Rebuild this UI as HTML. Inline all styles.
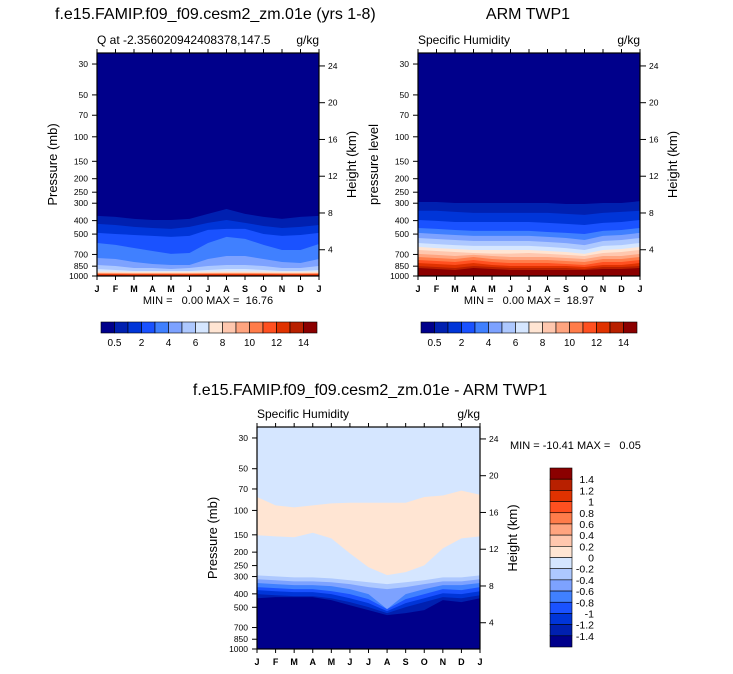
<!DOCTYPE html>
<html><head><meta charset="utf-8"><style>
html,body{margin:0;padding:0;background:#fff}
svg{display:block;font-family:"Liberation Sans",sans-serif}
text{white-space:pre}
</style></head><body>
<svg id="c" width="733" height="674" viewBox="0 0 733 674"></svg>
<script>
const months=["J","F","M","A","M","J","J","A","S","O","N","D","J"];
const colors=["#00008b","#0020b0","#0035d8","#1a52ff","#4080ff","#7da2ff","#adc8ff","#d5e6ff","#ffe5d3","#ffc7ae","#ffa47f","#ff7c4a","#ff5020","#e03200","#b82000","#8b0000"];
const qLevels=["0.5","1","2","3","4","5","6","7","8","9","10","11","12","13","14"];
const dLevels=["-1.4","-1.2","-1","-0.8","-0.6","-0.4","-0.2","0","0.2","0.4","0.6","0.8","1","1.2","1.4"];
const pTicks=[30,50,70,100,150,200,250,300,400,500,700,850,1000];
const zTicks=[4,8,12,16,20,24];
const modelB=[
[370,376,389,396,396,389,358,330,358,376,389,376,370],
[422,430,444,452,459,444,415,396,415,437,452,444,430],
[490,499,507,515,524,515,466,459,459,499,515,507,490],
[579,598,629,661,694,683,579,524,541,598,650,650,589],
[742,755,793,820,833,833,755,718,718,755,793,807,755],
[833,847,876,876,890,876,847,833,833,847,876,876,847],
[890,905,920,920,920,920,905,890,890,905,920,920,905],
[928,930,932,932,932,932,930,928,928,930,932,932,930],
[944,946,948,948,948,948,946,944,944,946,948,948,946],
[951,953,955,955,955,955,953,951,951,953,955,955,953],
[959,960,962,962,962,962,960,959,959,960,962,962,960],
[967,968,970,970,970,970,968,967,967,968,970,970,968],
[975,976,977,977,977,977,976,975,975,976,977,977,976],
[984,984,985,985,985,985,984,984,984,984,985,985,984],
[992,992,993,993,993,993,992,992,992,992,993,993,992]];
const obsB=[
[294,294,299,299,299,299,299,299,304,304,299,299,290],
[340,340,346,352,352,352,352,352,358,364,352,346,340],
[396,402,409,409,409,409,409,415,422,430,415,409,396],
[452,459,467,474,474,474,474,483,490,499,474,467,452],
[490,499,507,515,515,515,515,524,533,551,515,507,490],
[533,542,551,560,560,560,560,570,580,600,560,551,533],
[579,590,600,608,608,608,608,618,630,650,608,600,579],
[618,630,640,650,650,650,650,661,672,694,650,640,618],
[650,661,672,683,690,690,683,694,705,718,683,672,650],
[694,705,718,705,718,730,730,730,742,755,718,718,694],
[730,742,755,730,755,767,767,767,780,793,755,755,730],
[767,780,793,767,793,807,807,807,820,833,793,793,767],
[807,820,833,807,833,847,847,847,847,862,833,833,807],
[847,862,876,847,862,876,876,876,876,890,862,862,847],
[876,890,905,876,890,905,905,905,905,905,890,890,876]];
const diffPosTop=[80,92,95,92,89,88,88,88,88,80,78,72,77];
const diffPosBot=[151,154,156,145,159,204,257,293,279,249,188,159,154];
const diffNeg=[
[294,299,304,304,309,319,330,340,330,319,304,304,294],
[314,319,325,325,330,340,358,370,358,340,325,325,314],
[334,340,346,346,352,370,402,515,402,370,346,346,334],
[358,364,370,370,382,402,437,515,437,402,370,376,358],
[376,383,389,389,402,430,467,533,467,430,396,402,383],
[402,409,415,415,430,459,499,551,499,459,422,430,409],
[430,422,422,422,444,483,524,569,551,524,444,459,430]];

const svg=document.getElementById('c');
const NS="http://www.w3.org/2000/svg";
function mk(tag,attrs,parent,name){const e=document.createElementNS(NS,tag);for(const k in attrs)e.setAttribute(k,attrs[k]);(parent||svg).appendChild(e);


return e;}
function txt(x,y,s,size,anchor,name,extra){const t=mk('text',Object.assign({x:x,y:y,'font-size':size,'text-anchor':anchor||'start',fill:'#000'},extra||{}),null,name);t.textContent=s;return t;}

function panel(L,T,W,H,id){
  const g=mk('g',{},null,id+'-plot');
  const xs=i=>L+i*W/12;
  const ys=p=>T+H-H*Math.log10(1000/p)/Math.log10(1000/25);
  function fillBelow(arr,col,nm){
    let d='M'+xs(0)+','+ys(arr[0]);
    for(let i=1;i<arr.length;i++)d+='L'+xs(i)+','+ys(arr[i]);
    d+='L'+(L+W)+','+(T+H)+'L'+L+','+(T+H)+'Z';
    mk('path',{d:d,fill:col},g,nm);
  }
  function band(top,bot,col,nm){
    let d='M'+xs(0)+','+ys(top[0]);
    for(let i=1;i<top.length;i++)d+='L'+xs(i)+','+ys(top[i]);
    for(let i=bot.length-1;i>=0;i--)d+='L'+xs(i)+','+ys(bot[i]);
    d+='Z';mk('path',{d:d,fill:col},g,nm);
  }
  return {g,xs,ys,fillBelow,band};
}
function axes(L,T,W,H,ys,id,leftLabel){
  mk('rect',{x:L,y:T,width:W,height:H,fill:'none',stroke:'#000','stroke-width':1.2},null,id+'-frame');
  for(let i=0;i<13;i++){
    const x=L+i*W/12;
    mk('line',{x1:x,y1:T,x2:x,y2:T-4,stroke:'#000'},null,id+'-top-tick');
    mk('line',{x1:x,y1:T+H,x2:x,y2:T+H+4,stroke:'#000'},null,id+'-bottom-tick');
    txt(x,T+H+16,months[i],9,'middle',id+'-month-label',{'font-weight':'bold'});
  }
  pTicks.forEach(p=>{const y=ys(p);
    mk('line',{x1:L,y1:y,x2:L-5,y2:y,stroke:'#000'},null,id+'-pressure-tick');
    txt(L-9,y+3,String(p),8.5,'end',id+'-pressure-label');});
  zTicks.forEach(z=>{const y=T+H+10.5-9.19*z;
    mk('line',{x1:L+W,y1:y,x2:L+W+6,y2:y,stroke:'#000'},null,id+'-height-tick');
    txt(L+W+9,y+3,String(z),8.5,'start',id+'-height-label');});
  txt(0,0,leftLabel,13,'middle',id+'-y-axis-title',{transform:'translate('+(L-40)+','+(T+H/2)+') rotate(-90)'});
  txt(0,0,'Height (km)',13,'middle',id+'-right-axis-title',{transform:'translate('+(L+W+37)+','+(T+H/2)+') rotate(-90)'});
}
function hbar(L,T,id){
  const w=13.5;
  colors.forEach((c,i)=>mk('rect',{x:L+i*w,y:T,width:w,height:11,fill:c,stroke:'#000','stroke-width':0.6},null,id+'-colorbar-box'));
  qLevels.forEach((s,i)=>{if(i%2===0){const x=L+(i+1)*w;txt(x,T+24,s,10,'middle',id+'-colorbar-label');}});
}

(function(){const L=97,T=53,W=222,H=223;const P=panel(L,T,W,H,'model');
  mk('rect',{x:L,y:T,width:W,height:H,fill:colors[0]},P.g,'model-background');
  modelB.forEach((b,k)=>P.fillBelow(b,colors[k+1],'model-contour-band'));
  axes(L,T,W,H,P.ys,'model','Pressure (mb)');
  txt(55,19,'f.e15.FAMIP.f09_f09.cesm2_zm.01e (yrs 1-8)',16,'start','model-title');
  txt(L,44,'Q at -2.356020942408378,147.5',12,'start','model-subtitle');
  txt(L+W,44,'g/kg',12,'end','model-units');
  txt(L+W/2,304,'MIN =   0.00 MAX =  16.76',11,'middle','model-minmax');
  hbar(101,322,'model');
})();
(function(){const L=418,T=53,W=222,H=223;const P=panel(L,T,W,H,'obs');
  mk('rect',{x:L,y:T,width:W,height:H,fill:colors[0]},P.g,'obs-background');
  obsB.forEach((b,k)=>P.fillBelow(b,colors[k+1],'obs-contour-band'));
  axes(L,T,W,H,P.ys,'obs','pressure level');
  txt(528,19,'ARM TWP1',16,'middle','obs-title');
  txt(L,44,'Specific Humidity',12,'start','obs-subtitle');
  txt(L+W,44,'g/kg',12,'end','obs-units');
  txt(L+W/2,304,'MIN =   0.00 MAX =  18.97',11,'middle','obs-minmax');
  hbar(421,322,'obs');
})();
(function(){const L=257,T=427,W=223,H=222;const P=panel(L,T,W,H,'diff');
  mk('rect',{x:L,y:T,width:W,height:H,fill:colors[7]},P.g,'diff-background');
  P.band(diffPosTop,diffPosBot,colors[8],'diff-positive-band');
  diffNeg.forEach((b,k)=>P.fillBelow(b,colors[6-k],'diff-contour-band'));
  axes(L,T,W,H,P.ys,'diff','Pressure (mb)');
  txt(370,395,'f.e15.FAMIP.f09_f09.cesm2_zm.01e - ARM TWP1',16,'middle','diff-title');
  txt(L,418,'Specific Humidity',12,'start','diff-subtitle');
  txt(L+W,418,'g/kg',12,'end','diff-units');
  txt(510,449,'MIN = -10.41 MAX =   0.05',11,'start','diff-minmax');
  const bx=550,by=468,bh=(647-468)/16;
  for(let i=0;i<16;i++)mk('rect',{x:bx,y:by+i*bh,width:22,height:bh,fill:colors[15-i],stroke:'#000','stroke-width':0.6},null,'diff-colorbar-box');
  for(let i=0;i<15;i++){const s=dLevels[14-i];txt(bx+44,by+(i+1)*bh+4,s,10.5,'end','diff-colorbar-label');}
})();
</script>
</body></html>
